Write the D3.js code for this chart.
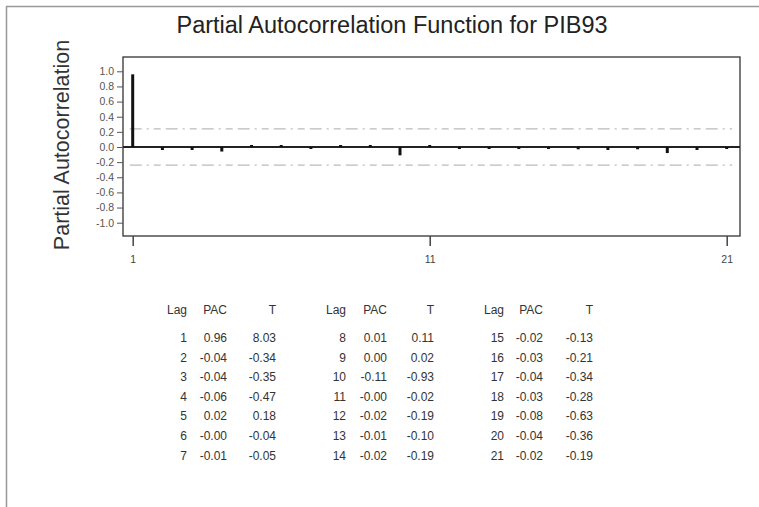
<!DOCTYPE html>
<html>
<head>
<meta charset="utf-8">
<script src="https://cdn.jsdelivr.net/npm/d3@7"></script>
<style>
  html, body { margin: 0; padding: 0; background: #fff; overflow: hidden; }
  svg { display: block; font-family: "Liberation Sans", Arial, sans-serif; }
</style>
</head>
<body>
<svg id="chart" width="759" height="507"></svg>
<script>
// ---- data ----
const lags = [1,2,3,4,5,6,7,8,9,10,11,12,13,14,15,16,17,18,19,20,21];
const pac = [0.96,-0.04,-0.04,-0.06,0.02,-0.00,-0.01,0.01,0.00,-0.11,-0.00,-0.02,-0.01,-0.02,-0.02,-0.03,-0.04,-0.03,-0.08,-0.04,-0.02];
const tvals = ["8.03","-0.34","-0.35","-0.47","0.18","-0.04","-0.05","0.11","0.02","-0.93","-0.02","-0.19","-0.10","-0.19","-0.13","-0.21","-0.34","-0.28","-0.63","-0.36","-0.19"];
const pacLabels = ["0.96","-0.04","-0.04","-0.06","0.02","-0.00","-0.01","0.01","0.00","-0.11","-0.00","-0.02","-0.01","-0.02","-0.02","-0.03","-0.04","-0.03","-0.08","-0.04","-0.02"];
const yTicks = [1.0,0.8,0.6,0.4,0.2,0.0,-0.2,-0.4,-0.6,-0.8,-1.0];
const xTicks = [1,11,21];
const confLimit = 0.239;
const title = "Partial Autocorrelation Function for PIB93";
const yTitle = "Partial Autocorrelation";
const tableHeaders = ["Lag","PAC","T"];

const svg = d3.select("#chart");

// outer frame (top and left lines)
svg.append("line").attr("x1",6).attr("y1",6.5).attr("x2",759).attr("y2",6.5)
  .attr("stroke","#999").attr("stroke-width",1.5);
svg.append("line").attr("x1",6.5).attr("y1",6).attr("x2",6.5).attr("y2",507)
  .attr("stroke","#999").attr("stroke-width",1.5);

// plot box
const box = {left:123, right:740, top:57, bottom:236};
const x = d3.scaleLinear().domain([1,21]).range([132.7,726.7]);
const y = d3.scaleLinear().domain([-1,1]).range([222.7,71.3]);

svg.append("rect").attr("x",box.left).attr("y",box.top)
  .attr("width",box.right-box.left).attr("height",box.bottom-box.top)
  .attr("fill","none").attr("stroke","#333").attr("stroke-width",1.3);

// title
svg.append("text").attr("x",392).attr("y",33).attr("text-anchor","middle")
  .attr("font-size",23.5).attr("fill","#222").text(title);

// y axis title
svg.append("text").attr("transform","translate(69,145) rotate(-90)")
  .attr("text-anchor","middle").attr("font-size",21.5).attr("fill","#333").text(yTitle);

// y axis
const fmt = d => d3.format(".1f")(d).replace("\u2212","-");
const yAxis = d3.axisLeft(y).tickValues(yTicks).tickFormat(fmt).tickSize(6).tickPadding(3);
const gy = svg.append("g").attr("transform",`translate(${box.left},0)`).call(yAxis);
gy.select(".domain").remove();
gy.selectAll(".tick line").attr("stroke","#555");
gy.selectAll(".tick text").attr("font-size",10.5).attr("fill","#555")
  .attr("font-family","Liberation Sans, Arial, sans-serif");

// x axis
const xAxis = d3.axisBottom(x).tickValues(xTicks).tickFormat(d3.format("d")).tickSize(10).tickPadding(10);
const gx = svg.append("g").attr("transform",`translate(0,${box.bottom})`).call(xAxis);
gx.select(".domain").remove();
gx.selectAll(".tick line").attr("stroke","#444").attr("stroke-width",1.5);
gx.selectAll(".tick text").attr("font-size",10.5).attr("fill","#444")
  .attr("font-family","Liberation Sans, Arial, sans-serif");

// confidence limits
[confLimit,-confLimit].forEach(c => {
  svg.append("line").attr("x1",x(1)-3).attr("x2",box.right-8)
    .attr("y1",y(c)).attr("y2",y(c))
    .attr("stroke","#bbb").attr("stroke-width",1.2)
    .attr("stroke-dasharray","12,5,2,5,7,5");
});

// zero line
svg.append("line").attr("x1",box.left).attr("x2",box.right)
  .attr("y1",y(0)).attr("y2",y(0)).attr("stroke","#222").attr("stroke-width",2);

// bars
svg.append("g").selectAll("line").data(lags).join("line")
  .attr("x1",d=>x(d)).attr("x2",d=>x(d))
  .attr("y1",y(0))
  .attr("y2",(d,i)=> {
    const v = pac[i];
    const py = y(v), zy = y(0);
    if (Math.abs(py-zy) < 2) return zy + (v < 0 ? 2 : -2);
    return py;
  })
  .attr("stroke","#111").attr("stroke-width",3);

// table
const groups = [
  {lagX:187, pacX:227, tX:276},
  {lagX:346, pacX:387, tX:434},
  {lagX:504, pacX:543, tX:593}
];
const headerY = 314;
const rowY0 = 342, rowStep = 19.6;
const tbl = svg.append("g").attr("font-size",12).attr("fill","#333").attr("text-anchor","end");
groups.forEach((g,gi) => {
  const cols = [g.lagX,g.pacX,g.tX];
  tableHeaders.forEach((h,hi) => {
    tbl.append("text").attr("x",cols[hi]).attr("y",headerY).text(h);
  });
  for (let r = 0; r < 7; r++) {
    const i = gi*7 + r;
    const ry = rowY0 + r*rowStep;
    tbl.append("text").attr("x",g.lagX).attr("y",ry).text(lags[i]);
    tbl.append("text").attr("x",g.pacX).attr("y",ry).text(pacLabels[i]);
    tbl.append("text").attr("x",g.tX).attr("y",ry).text(tvals[i]);
  }
});
</script>
</body>
</html>
